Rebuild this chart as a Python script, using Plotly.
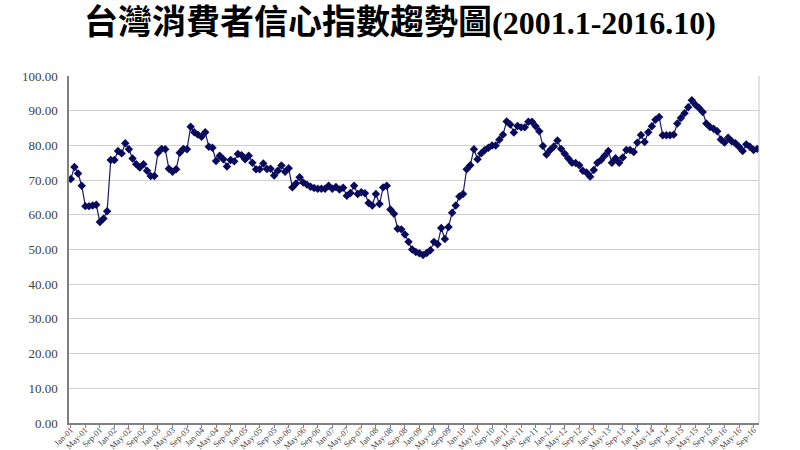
import plotly.graph_objects as go

months = ["Jan", "Feb", "Mar", "Apr", "May", "Jun", "Jul", "Aug", "Sep", "Oct", "Nov", "Dec"]
categories = [f"{m}-{y:02d}" for y in range(1, 17) for m in months][:190]

cci_values = [
    70.3, 73.8, 71.9, 68.4, 62.5, 62.5, 62.7, 62.9, 57.9, 58.9, 61.0, 75.8,
    75.8, 78.4, 77.7, 80.6, 78.9, 76.2, 74.6, 73.6, 74.6, 72.7, 71.2, 71.2,
    77.9, 79.0, 78.9, 73.3, 72.4, 73.1, 77.9, 79.0, 78.9, 85.4, 83.8, 83.1,
    82.5, 83.8, 79.6, 79.3, 75.5, 77.0, 76.0, 73.9, 75.8, 75.4, 77.5, 77.2,
    76.0, 77.0, 75.0, 73.1, 73.1, 74.8, 73.2, 73.3, 71.3, 72.7, 74.2, 72.4,
    73.4, 67.9, 69.0, 70.8, 69.3, 68.7, 68.1, 67.7, 67.5, 67.5, 67.5, 68.4,
    67.5, 68.0, 67.3, 67.8, 65.5, 66.3, 68.4, 66.0, 66.5, 66.2, 63.4, 62.7,
    66.0, 63.1, 67.9, 68.4, 61.5, 60.3, 56.0, 55.8, 54.3, 52.2, 50.0, 49.3,
    48.9, 48.4, 49.0, 49.8, 52.2, 51.5, 56.2, 53.0, 56.5, 60.6, 62.7, 65.3,
    66.0, 73.1, 74.3, 78.9, 76.0, 77.7, 78.7, 79.3, 80.0, 80.0, 81.6, 83.1,
    86.9, 86.0, 83.7, 85.6, 85.2, 85.2, 86.8, 86.8, 85.5, 84.1, 79.8, 77.4,
    78.7, 79.7, 81.4, 79.0, 77.6, 76.2, 75.0, 74.9, 74.3, 72.7, 72.2, 71.0,
    72.9, 75.0, 75.8, 77.0, 78.4, 75.0, 76.3, 75.0, 76.5, 78.7, 78.7, 78.1,
    80.8, 83.0, 81.0, 83.8, 85.5, 87.4, 88.2, 82.9, 82.9, 82.9, 83.1, 86.3,
    87.9, 89.3, 91.0, 93.0, 91.7, 90.8, 89.6, 86.3, 85.3, 84.8, 84.1, 81.7,
    80.8, 82.2, 81.2, 80.6, 79.6, 78.4, 80.3, 79.6, 78.7, 79.0,
]

tick_labels = categories[::4]
y_ticks = [0, 10, 20, 30, 40, 50, 60, 70, 80, 90, 100]
y_tick_text = [f"{v:.2f}" for v in y_ticks]

title_text = ("台灣消費者信心指數趨勢圖"
              "<span style=\"font-family:'Liberation Serif', serif; font-size:32px\">(2001.1-2016.10)</span>")

fig = go.Figure()
fig.add_trace(go.Scatter(
    x=categories,
    y=cci_values,
    mode="lines+markers",
    line=dict(color="#1a1a66", width=1.2),
    marker=dict(symbol="diamond", size=6.5, color="#0a0a5c"),
    showlegend=False,
))

fig.update_layout(
    width=800,
    height=450,
    paper_bgcolor="white",
    plot_bgcolor="white",
    margin=dict(l=69, r=41, t=76, b=27),
    title=dict(
        text=title_text,
        x=0.5,
        xanchor="center",
        y=1 - 22 / 450,
        yanchor="middle",
        yref="container",
        font=dict(family="Noto Sans CJK TC", size=34, color="black", weight="bold"),
    ),
    xaxis=dict(
        type="category",
        range=[-0.5, 189.5],
        automargin=False,
        tickmode="array",
        tickvals=tick_labels,
        ticktext=tick_labels,
        tickangle=-45,
        tickfont=dict(family="Liberation Serif", size=8.5, color="#404040"),
        showgrid=False,
        showline=True,
        linecolor="#808080",
        linewidth=1.5,
        ticks="outside",
        ticklen=3,
        tickcolor="#808080",
        zeroline=False,
        ticklabelstandoff=-6,
    ),
    yaxis=dict(
        range=[0, 100],
        automargin=False,
        tickmode="array",
        tickvals=y_ticks,
        ticktext=y_tick_text,
        tickfont=dict(family="Liberation Serif", size=13, color="#404040"),
        showgrid=True,
        gridcolor="#d0d0d0",
        gridwidth=1,
        showline=True,
        linecolor="#808080",
        linewidth=1.5,
        ticks="",
        zeroline=False,
        ticklabelstandoff=7,
    ),
    shapes=[
        dict(type="line", xref="paper", yref="paper", x0=1, x1=1, y0=0, y1=1,
             line=dict(color="#c8c8c8", width=1)),
    ],
)

fig.write_html(
    "out.html",
    config={"displayModeBar": False},
    post_script="document.body.style.margin='0';document.body.style.overflow='hidden';",
)
